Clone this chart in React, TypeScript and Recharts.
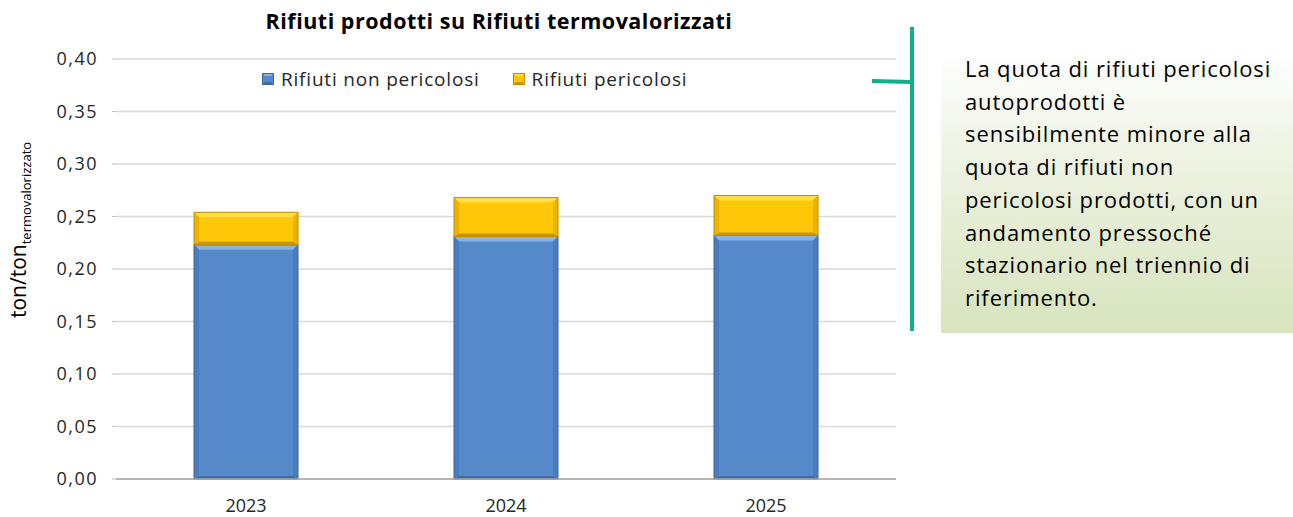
import React from 'react'
import { BarChart, Bar, XAxis, YAxis, CartesianGrid } from 'recharts'

const years = ['2023', '2024', '2025']
const nonPericolosi = [0.223, 0.231, 0.232]
const pericolosi = [0.031, 0.037, 0.038]
const yTicks = [0, 0.05, 0.1, 0.15, 0.2, 0.25, 0.3, 0.35, 0.4]
const noteLines = [
  'La quota di rifiuti pericolosi',
  'autoprodotti è',
  'sensibilmente minore alla',
  'quota di rifiuti non',
  'pericolosi prodotti, con un',
  'andamento pressoché',
  'stazionario nel triennio di',
  'riferimento.',
]

const data = years.map((year, i) => ({
  year,
  nonPericolosi: nonPericolosi[i],
  pericolosi: pericolosi[i],
}))

const FONT = '"Open Sans", "Noto Sans", sans-serif'

const palette: Record<string, { body: string; top: string; side: string; bottom: string; edge: string }> = {
  blue: { body: '#5589CA', top: '#8AB2E4', side: '#4A7DBE', bottom: '#3F6CA6', edge: '#3E6598' },
  yellow: { body: '#FFC708', top: '#FFDF45', side: '#EDB300', bottom: '#C99500', edge: '#BF8F00' },
}

function BevelBar(props: any) {
  const { x, y, width, height, tone } = props
  if (!height || height <= 0) return null
  const c = palette[tone]
  const b = Math.min(5, height / 3)
  const bb = Math.min(3, height / 4)
  return (
    <g>
      <rect x={x} y={y} width={width} height={height} fill={c.body} />
      <polygon points={`${x},${y} ${x + width},${y} ${x + width - b},${y + b} ${x + b},${y + b}`} fill={c.top} />
      <polygon points={`${x},${y} ${x + b},${y + b} ${x + b},${y + height - bb} ${x},${y + height}`} fill={c.side} />
      <polygon points={`${x + width},${y} ${x + width - b},${y + b} ${x + width - b},${y + height - bb} ${x + width},${y + height}`} fill={c.side} />
      <polygon points={`${x},${y + height} ${x + b},${y + height - bb} ${x + width - b},${y + height - bb} ${x + width},${y + height}`} fill={c.bottom} />
      <rect x={x} y={y} width={width} height={height} fill="none" stroke={c.edge} strokeWidth={1} />
    </g>
  )
}

function LegendIcon({ tone }: { tone: string }) {
  const c = palette[tone]
  return (
    <svg width={12} height={12} style={{ marginRight: 7 }}>
      <rect x={0} y={0} width={12} height={12} fill={c.body} />
      <polygon points="0,0 12,0 9,3 3,3" fill={c.top} />
      <polygon points="0,12 3,9 9,9 12,12" fill={c.bottom} />
      <rect x={0.5} y={0.5} width={11} height={11} fill="none" stroke={c.edge} />
    </svg>
  )
}

function ChartLegend() {
  return (
    <div
      style={{
        position: 'absolute',
        left: 262,
        top: 66,
        display: 'flex',
        fontFamily: FONT,
        fontSize: 19,
        letterSpacing: 0.8,
        lineHeight: '26px',
        color: '#262626',
        whiteSpace: 'nowrap',
      }}
    >
      <span style={{ display: 'flex', alignItems: 'center', marginRight: 33 }}>
        <LegendIcon tone="blue" />
        Rifiuti non pericolosi
      </span>
      <span style={{ display: 'flex', alignItems: 'center' }}>
        <LegendIcon tone="yellow" />
        Rifiuti pericolosi
      </span>
    </div>
  )
}

function YLabel() {
  return (
    <text transform="translate(26,318) rotate(-90)" fontFamily={FONT} fontSize={21} fill="#000">
      ton/ton
      <tspan fontSize={13} dy={5}>termovalorizzato</tspan>
    </text>
  )
}

const fmt = (v: number) => v.toFixed(2).replace('.', ',')

export default function App() {
  return (
    <div style={{ position: 'absolute', left: 0, top: 0, width: 1293, height: 517, background: '#fff', overflow: 'hidden' }}>
      <div
        style={{
          position: 'absolute',
          left: 116,
          width: 766,
          top: 5,
          textAlign: 'center',
          fontFamily: FONT,
          fontWeight: 700,
          fontSize: 21.5,
          letterSpacing: 0.5,
          lineHeight: '32px',
          color: '#000',
        }}
      >
        Rifiuti prodotti su Rifiuti termovalorizzati
      </div>
      <BarChart width={910} height={517} data={data} margin={{ top: 59, right: 14, bottom: 0, left: 0 }} barSize={104}>
        <CartesianGrid vertical={false} stroke="#d9d9d9" strokeWidth={1.5} />
        <XAxis
          dataKey="year"
          height={38}
          axisLine={{ stroke: '#a6a6a6', strokeWidth: 1.5 }}
          tickLine={false}
          tickSize={0}
          tickMargin={20}
          tick={{ fontFamily: FONT, fontSize: 18, fill: '#262626' }}
        />
        <YAxis
          width={116}
          domain={[0, 0.4]}
          ticks={yTicks}
          interval={0}
          axisLine={false}
          tickLine={{ stroke: '#bfbfbf' }}
          tickSize={4}
          tickMargin={14}
          tickFormatter={fmt}
          tick={{ fontFamily: FONT, fontSize: 18, fill: '#262626', letterSpacing: 1.5 }}
        />
        <Bar dataKey="nonPericolosi" stackId="a" name="Rifiuti non pericolosi" fill="#5589CA" shape={(p: any) => <BevelBar {...p} tone="blue" />} isAnimationActive={false} />
        <Bar dataKey="pericolosi" stackId="a" name="Rifiuti pericolosi" fill="#FFC708" shape={(p: any) => <BevelBar {...p} tone="yellow" />} isAnimationActive={false} />
        <YLabel />
      </BarChart>
      <ChartLegend />
      <svg style={{ position: 'absolute', left: 860, top: 20 }} width={70} height={320}>
        <line x1={12} y1={61} x2={52} y2={62} stroke="#12B087" strokeWidth={4} />
        <line x1={52} y1={7} x2={52} y2={311} stroke="#12B087" strokeWidth={4} />
      </svg>
      <div
        style={{
          position: 'absolute',
          left: 941,
          top: 52,
          width: 352,
          height: 281,
          background: 'linear-gradient(to bottom, #ffffff 0%, #ebf1de 45%, #d7e4bd 100%)',
          boxSizing: 'border-box',
          padding: '0 0 0 24px',
          fontFamily: FONT,
          fontSize: 22,
          letterSpacing: 0.9,
          lineHeight: '32.7px',
          color: '#000',
          whiteSpace: 'nowrap',
        }}
      >
        {noteLines.map((line, i) => (
          <div key={i}>{line}</div>
        ))}
      </div>
    </div>
  )
}
